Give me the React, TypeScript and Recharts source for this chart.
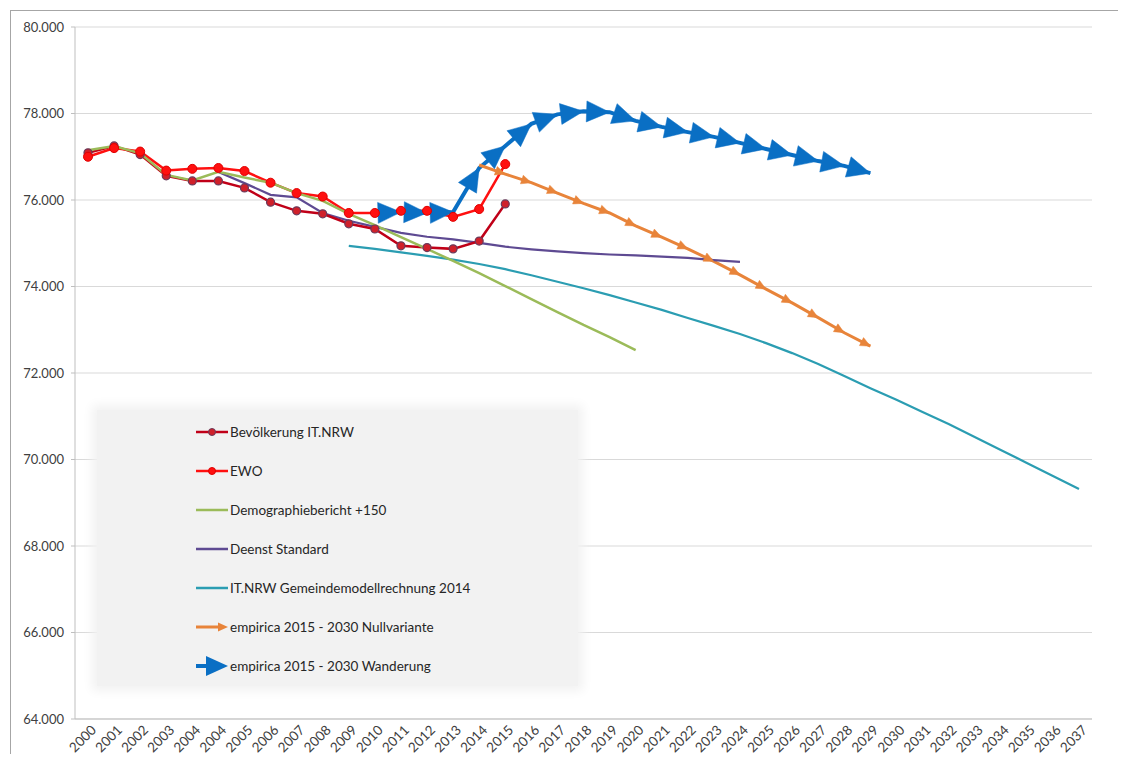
import React from 'react';
import { LineChart, Line, XAxis, YAxis, CartesianGrid, Legend } from 'recharts';

const years = [
  '2000', '2001', '2002', '2003', '2004', '2004', '2005', '2006', '2007', '2008',
  '2009', '2010', '2011', '2012', '2013', '2014', '2015', '2016', '2017', '2018',
  '2019', '2020', '2021', '2022', '2023', '2024', '2025', '2026', '2027', '2028',
  '2029', '2030', '2031', '2032', '2033', '2034', '2035', '2036', '2037',
];

const yTicks = [64000, 66000, 68000, 70000, 72000, 74000, 76000, 78000, 80000];

// Bevölkerung IT.NRW (from 2000)
const bevoelkerung = [77090, 77250, 77050, 76560, 76440, 76440, 76280, 75950, 75750, 75680, 75450, 75330, 74940, 74900, 74870, 75050, 75910];
// EWO (from 2000)
const ewo = [77000, 77200, 77120, 76680, 76720, 76740, 76670, 76400, 76160, 76080, 75700, 75700, 75750, 75750, 75610, 75790, 76830];
// Demographiebericht +150 (from 2000)
const demographie = [77150, 77250, 77080, 76580, 76450, 76650, 76520, 76400, 76160, 75980, 75680, 75420, 75140, 74870, 74590, 74310, 74010, 73710, 73410, 73110, 72830, 72530];
// Deenst Standard (from second 2004)
const deenstStart = 5;
const deenst = [76650, 76390, 76120, 76060, 75700, 75520, 75380, 75240, 75150, 75090, 75010, 74920, 74860, 74810, 74770, 74740, 74720, 74690, 74660, 74610, 74570];
// IT.NRW Gemeindemodellrechnung 2014 (from 2009)
const gemeindeStart = 10;
const gemeinde = [74940, 74870, 74790, 74710, 74620, 74520, 74400, 74260, 74110, 73960, 73800, 73630, 73460, 73270, 73090, 72900, 72690, 72460, 72210, 71930, 71650, 71380, 71100, 70820, 70520, 70220, 69920, 69620, 69320];
// empirica 2015 - 2030 Nullvariante (from 2014)
const nullStart = 15;
const nullvariante = [76810, 76600, 76400, 76160, 75920, 75700, 75400, 75140, 74870, 74580, 74270, 73940, 73620, 73280, 72930, 72620];
// empirica 2015 - 2030 Wanderung (from 2010)
const wanderStart = 11;
const wanderung = [75700, 75720, 75700, 75720, 76740, 77250, 77760, 77980, 78050, 78030, 77830, 77690, 77570, 77460, 77320, 77180, 77040, 76900, 76790, 76620];

const pick = (arr: number[], start: number, i: number) => {
  const k = i - start;
  return k >= 0 && k < arr.length ? arr[k] : null;
};

const data = years.map((y, i) => ({
  i,
  year: y,
  bev: pick(bevoelkerung, 0, i),
  ewo: pick(ewo, 0, i),
  demo: pick(demographie, 0, i),
  deenst: pick(deenst, deenstStart, i),
  gem: pick(gemeinde, gemeindeStart, i),
  nullv: pick(nullvariante, nullStart, i),
  wand: pick(wanderung, wanderStart, i),
}));

const FONT = 'Lato, "Liberation Sans", sans-serif';
const TEXT = '#404040';

const C_BEV = '#C00018';
const C_EWO = '#FF1010';
const C_DEMO = '#9BBB59';
const C_DEENST = '#5E4A92';
const C_GEM = '#2B9DB2';
const C_NULL = '#E8843A';
const C_WAND = '#0A6FC4';

function makeArrowDot(len: number, halfW: number, color: string) {
  const rec: Record<number, { x: number; y: number }> = {};
  return (props: any) => {
    const { cx, cy, index } = props;
    const key = `arr-${index}`;
    if (cx == null || cy == null || !isFinite(cx) || !isFinite(cy)) return <g key={key} />;
    rec[index] = { x: cx, y: cy };
    let prev: { x: number; y: number } | null = null;
    const pts = props.points;
    if (Array.isArray(pts) && index > 0) {
      const p = pts[index - 1];
      if (p && p.x != null && p.y != null && isFinite(p.x) && isFinite(p.y)) prev = { x: p.x, y: p.y };
    } else if (index > 0 && rec[index - 1]) {
      prev = rec[index - 1];
    }
    if (!prev) return <g key={key} />;
    const dx = cx - prev.x;
    const dy = cy - prev.y;
    const d = Math.hypot(dx, dy) || 1;
    const ux = dx / d;
    const uy = dy / d;
    const bx = cx - ux * len;
    const by = cy - uy * len;
    const px = -uy * halfW;
    const py = ux * halfW;
    const pointsStr = `${cx},${cy} ${bx + px},${by + py} ${bx - px},${by - py}`;
    return <polygon key={key} points={pointsStr} fill={color} stroke={color} strokeWidth={0.5} strokeLinejoin="round" />;
  };
}

const wandArrow = makeArrowDot(23, 10.5, C_WAND);
const nullArrow = makeArrowDot(10, 4.5, C_NULL);

const formatY = (v: number) => `${Math.floor(v / 1000)}.${String(v % 1000).padStart(3, '0')}`;

const XTick = (props: any) => {
  const { x, y, payload } = props;
  const tx = x + 9;
  const ty = y + 12;
  return (
    <text
      x={tx}
      y={ty}
      textAnchor="end"
      fontFamily={FONT}
      fontSize={13.5}
      fill={TEXT}
      transform={`rotate(-45 ${tx} ${ty})`}
    >
      {years[payload.value]}
    </text>
  );
};

type LegendItem = { name: string; color: string; kind: 'dot' | 'line' | 'smallArrow' | 'bigArrow'; dotFill?: string; dotStroke?: string; width: number };

const legendItems: LegendItem[] = [
  { name: 'Bevölkerung IT.NRW', color: C_BEV, kind: 'dot', dotFill: '#D0202A', dotStroke: '#6A3A5A', width: 2.5 },
  { name: 'EWO', color: C_EWO, kind: 'dot', dotFill: '#FF1010', dotStroke: '#E00000', width: 2.5 },
  { name: 'Demographiebericht +150', color: C_DEMO, kind: 'line', width: 2.5 },
  { name: 'Deenst Standard', color: C_DEENST, kind: 'line', width: 2.5 },
  { name: 'IT.NRW Gemeindemodellrechnung 2014', color: C_GEM, kind: 'line', width: 2.5 },
  { name: 'empirica 2015 - 2030 Nullvariante', color: C_NULL, kind: 'smallArrow', width: 3 },
  { name: 'empirica 2015 - 2030 Wanderung', color: C_WAND, kind: 'bigArrow', width: 4 },
];

const LegendSymbol = ({ item }: { item: LegendItem }) => (
  <svg width={36} height={26} style={{ display: 'block' }}>
    {item.kind === 'bigArrow' ? (
      <>
        <line x1={2} y1={13} x2={20} y2={13} stroke={item.color} strokeWidth={item.width} />
        <polygon points="34,13 12,3 12,23" fill={item.color} />
      </>
    ) : item.kind === 'smallArrow' ? (
      <>
        <line x1={2} y1={13} x2={28} y2={13} stroke={item.color} strokeWidth={item.width} />
        <polygon points="34,13 24,8.5 24,17.5" fill={item.color} />
      </>
    ) : (
      <>
        <line x1={2} y1={13} x2={34} y2={13} stroke={item.color} strokeWidth={item.width} />
        {item.kind === 'dot' && <circle cx={18} cy={13} r={3.5} fill={item.dotFill} stroke={item.dotStroke} strokeWidth={1} />}
      </>
    )}
  </svg>
);

const renderLegend = () => (
  <div
    style={{
      position: 'relative',
      width: 481,
      height: 276,
      background: '#F2F2F2',
      boxShadow: '0 0 10px 5px #F2F2F2',
      fontFamily: FONT,
      fontSize: 13.5,
      color: '#262626',
    }}
  >
    {legendItems.map((it, k) => (
      <div
        key={it.name}
        style={{ position: 'absolute', left: 97, top: 22 + 39 * k - 13, height: 26, display: 'flex', alignItems: 'center', whiteSpace: 'nowrap' }}
      >
        <LegendSymbol item={it} />
        <span style={{ marginLeft: 0 }}>{it.name}</span>
      </div>
    ))}
  </div>
);

export default function App() {
  return (
    <div
      style={{
        position: 'relative',
        width: 1108,
        height: 744,
        marginLeft: 2,
        marginTop: 2,
        borderLeft: '1px solid #A6A6A6',
        borderTop: '1px solid #A6A6A6',
        boxSizing: 'border-box',
        background: '#FFFFFF',
      }}
    >
      <LineChart width={1107} height={743} data={data} margin={{ top: 16, right: 26, left: 0, bottom: 0 }}>
        <CartesianGrid vertical={false} stroke="#D9D9D9" strokeWidth={1} />
        <XAxis
          dataKey="i"
          type="category"
          interval={0}
          padding={{ left: 13, right: 13 }}
          height={35}
          tickSize={0}
          tickMargin={0}
          tickLine={false}
          axisLine={{ stroke: '#BFBFBF' }}
          tick={<XTick />}
        />
        <YAxis
          type="number"
          domain={[64000, 80000]}
          ticks={yTicks}
          interval={0}
          width={64}
          tickSize={4}
          tickMargin={7}
          tickFormatter={formatY}
          axisLine={{ stroke: '#BFBFBF' }}
          tickLine={{ stroke: '#BFBFBF' }}
          tick={{ fontFamily: FONT, fontSize: 13, fill: TEXT }}
        />
        <Legend
          layout="vertical"
          align="center"
          verticalAlign="middle"
          content={renderLegend}
          wrapperStyle={{ left: 86, top: 399, width: 481, height: 276 }}
        />
        <Line dataKey="wand" name="empirica 2015 - 2030 Wanderung" stroke={C_WAND} strokeWidth={4} dot={wandArrow} activeDot={false} isAnimationActive={false} />
        <Line dataKey="nullv" name="empirica 2015 - 2030 Nullvariante" stroke={C_NULL} strokeWidth={3} dot={nullArrow} activeDot={false} isAnimationActive={false} />
        <Line dataKey="gem" name="IT.NRW Gemeindemodellrechnung 2014" stroke={C_GEM} strokeWidth={2.2} dot={false} activeDot={false} isAnimationActive={false} />
        <Line dataKey="deenst" name="Deenst Standard" stroke={C_DEENST} strokeWidth={2.2} dot={false} activeDot={false} isAnimationActive={false} />
        <Line
          dataKey="bev"
          name="Bevölkerung IT.NRW"
          stroke={C_BEV}
          strokeWidth={2.5}
          dot={{ r: 4, fill: '#D0202A', stroke: '#6A3A5A', strokeWidth: 1.2 }}
          activeDot={false}
          isAnimationActive={false}
        />
        <Line
          dataKey="ewo"
          name="EWO"
          stroke={C_EWO}
          strokeWidth={2.5}
          dot={{ r: 4.5, fill: '#FF1010', stroke: '#E00000', strokeWidth: 1 }}
          activeDot={false}
          isAnimationActive={false}
        />
        <Line dataKey="demo" name="Demographiebericht +150" stroke={C_DEMO} strokeWidth={2.5} dot={false} activeDot={false} isAnimationActive={false} />
      </LineChart>
    </div>
  );
}
